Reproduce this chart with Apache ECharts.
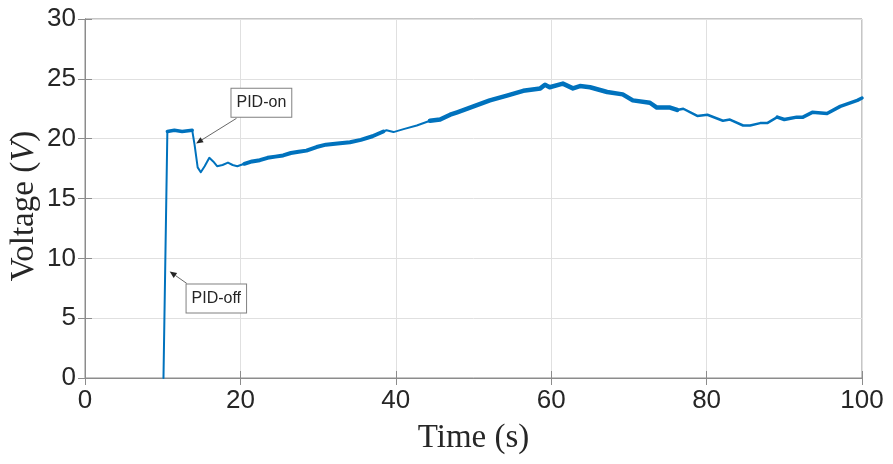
<!DOCTYPE html>
<html><head><meta charset="utf-8">
<script src="https://cdn.jsdelivr.net/npm/echarts@6/dist/echarts.min.js"></script>
<style>html,body{margin:0;padding:0;background:#fff}#c{width:893px;height:464px}</style>
</head><body><div id="c"></div>
<script>
// time (s)
const timeS = [10.1,10.6,11.5,12.5,13.8,14.1,14.5,14.9,15.4,16.0,16.5,17.0,17.7,18.4,19.0,19.6,20.5,21.5,22.5,23.5,24.5,25.5,26.5,27.5,28.5,29.8,31,32.5,34.1,35.5,37,38.4,38.8,39.7,41,42.7,44.4,45.7,47,47.9,50,52.1,54.3,56.4,58.6,59.2,59.8,61.5,62.8,63.7,65,67.2,69.2,70.5,72.7,73.6,75.3,76.2,77,78.8,80.1,82.1,83,84.7,85.6,86.9,87.8,89.1,90,91.6,92.4,93.6,95.5,97.2,99.4,100];
// voltage (V)
const voltage = [0,20.6,20.7,20.6,20.7,19.5,17.6,17.2,17.7,18.4,18.1,17.7,17.8,18.0,17.8,17.7,17.9,18.1,18.2,18.4,18.5,18.6,18.8,18.9,19.0,19.3,19.5,19.6,19.7,19.9,20.2,20.6,20.7,20.55,20.8,21.1,21.5,21.6,22.0,22.2,22.7,23.2,23.6,24.0,24.2,24.5,24.3,24.6,24.2,24.4,24.3,23.9,23.7,23.2,23.0,22.6,22.6,22.4,22.5,21.9,22.0,21.5,21.6,21.1,21.1,21.3,21.3,21.8,21.6,21.8,21.8,22.2,22.1,22.7,23.2,23.4];
// segments of the trace and how thick (noisy) the band looks there
const segStart = [10.1,10.6,13.8,20.5,38.4,44.4,76.2,89.1];
const segEnd   = [10.6,13.8,20.5,38.4,44.4,76.2,89.1,100];
const segWidth = [2,3.5,2,4,2,4.5,2.5,3.5];
const xTicks = [0,20,40,60,80,100];
const yTicks = [0,5,10,15,20,25,30];
// annotations: label, arrow tip [t,V], box centre [t,V], arrow tail [t,V]
const annLabels = ['PID-on','PID-off'];
const annTips = [[14.3,19.6],[10.9,8.9]];
const annCentres = [[22.7,23.0],[16.9,6.65]];
const annTails = [[19.5,21.7],[13.1,7.9]];

const chart = echarts.init(document.getElementById('c'));
const axisGray = '#8c8c8c';
const tickFont = {fontFamily:'Liberation Sans, Arial, sans-serif', fontSize:26, color:'#262626'};
const nameFont = {fontFamily:'Liberation Serif, Times New Roman, serif', fontSize:33, color:'#262626'};
const series = segStart.map((s,k)=>({
  type:'line',showSymbol:false,
  data:timeS.map((t,i)=>[t,voltage[i]]).filter(p=>p[0]>=s&&p[0]<=segEnd[k]),
  lineStyle:{color:'#0072BD',width:segWidth[k],cap:'round',join:'round'},itemStyle:{color:'#0072BD'}
}));
chart.setOption({
  animation:false,
  grid:{left:85,right:31,top:19,bottom:86,show:true,borderColor:axisGray,borderWidth:1,containLabel:false,outerBoundsMode:'none'},
  xAxis:[{type:'value',min:0,max:100,interval:20,position:'bottom',
    name:'Time (s)',nameLocation:'middle',nameGap:44,nameTextStyle:nameFont,
    axisLine:{show:true,lineStyle:{color:axisGray}},
    axisTick:{show:true,inside:true,length:7,lineStyle:{color:axisGray}},
    axisLabel:Object.assign({margin:10},tickFont),
    splitLine:{show:true,lineStyle:{color:'#e0e0e0'}}},
    {type:'value',min:0,max:100,interval:20,position:'top',
    axisLine:{show:true,lineStyle:{color:axisGray}},
    axisTick:{show:true,inside:true,length:7,lineStyle:{color:axisGray}},
    axisLabel:{show:false},splitLine:{show:false}}],
  yAxis:[{type:'value',min:0,max:30,interval:5,
    axisLine:{show:true,lineStyle:{color:axisGray}},
    axisTick:{show:true,inside:true,length:7,lineStyle:{color:axisGray}},
    axisLabel:Object.assign({margin:9},tickFont),
    splitLine:{show:true,lineStyle:{color:'#e0e0e0'}}},
    {type:'value',min:0,max:30,interval:5,position:'right',
    axisLine:{show:true,lineStyle:{color:axisGray}},
    axisTick:{show:true,inside:true,length:7,lineStyle:{color:axisGray}},
    axisLabel:{show:false},splitLine:{show:false}}],
  series:series
});

function buildGraphics(){
  const g=[];
  // y-axis title
  g.push({type:'text',x:24,y:206,rotation:Math.PI/2,z:20,style:{
    text:'{n|Voltage (}{i|V}{n|)}',align:'center',verticalAlign:'middle',
    rich:{n:{font:'33px Liberation Serif, Times New Roman, serif',fill:'#262626'},
          i:{font:'italic 33px Liberation Serif, Times New Roman, serif',fill:'#262626'}}}});
  annLabels.forEach((lab,i)=>{
    const c=chart.convertToPixel({gridIndex:0},annCentres[i]);
    const tip=chart.convertToPixel({gridIndex:0},annTips[i]);
    const tail=chart.convertToPixel({gridIndex:0},annTails[i]);
    g.push({type:'text',x:c[0],y:c[1],z:20,style:{text:lab,fill:'#262626',font:'16px Liberation Sans, Arial, sans-serif',align:'center',verticalAlign:'middle',
      backgroundColor:'#fff',borderColor:'#808080',borderWidth:1,padding:[6,5,6,5]}});
    const dx=tip[0]-tail[0],dy=tip[1]-tail[1],L=Math.hypot(dx,dy),ux=dx/L,uy=dy/L;
    const hl=7,hw=3;
    const bx=tip[0]-ux*hl,by=tip[1]-uy*hl;
    g.push({type:'line',z:15,shape:{x1:tail[0],y1:tail[1],x2:bx,y2:by},style:{stroke:'#404040',lineWidth:0.8}});
    g.push({type:'polygon',z:15,shape:{points:[[tip[0],tip[1]],[bx-uy*hw,by+ux*hw],[bx+uy*hw,by-ux*hw]]},style:{fill:'#262626'}});
  });
  chart.setOption({graphic:g});
}
buildGraphics();
</script></body></html>
